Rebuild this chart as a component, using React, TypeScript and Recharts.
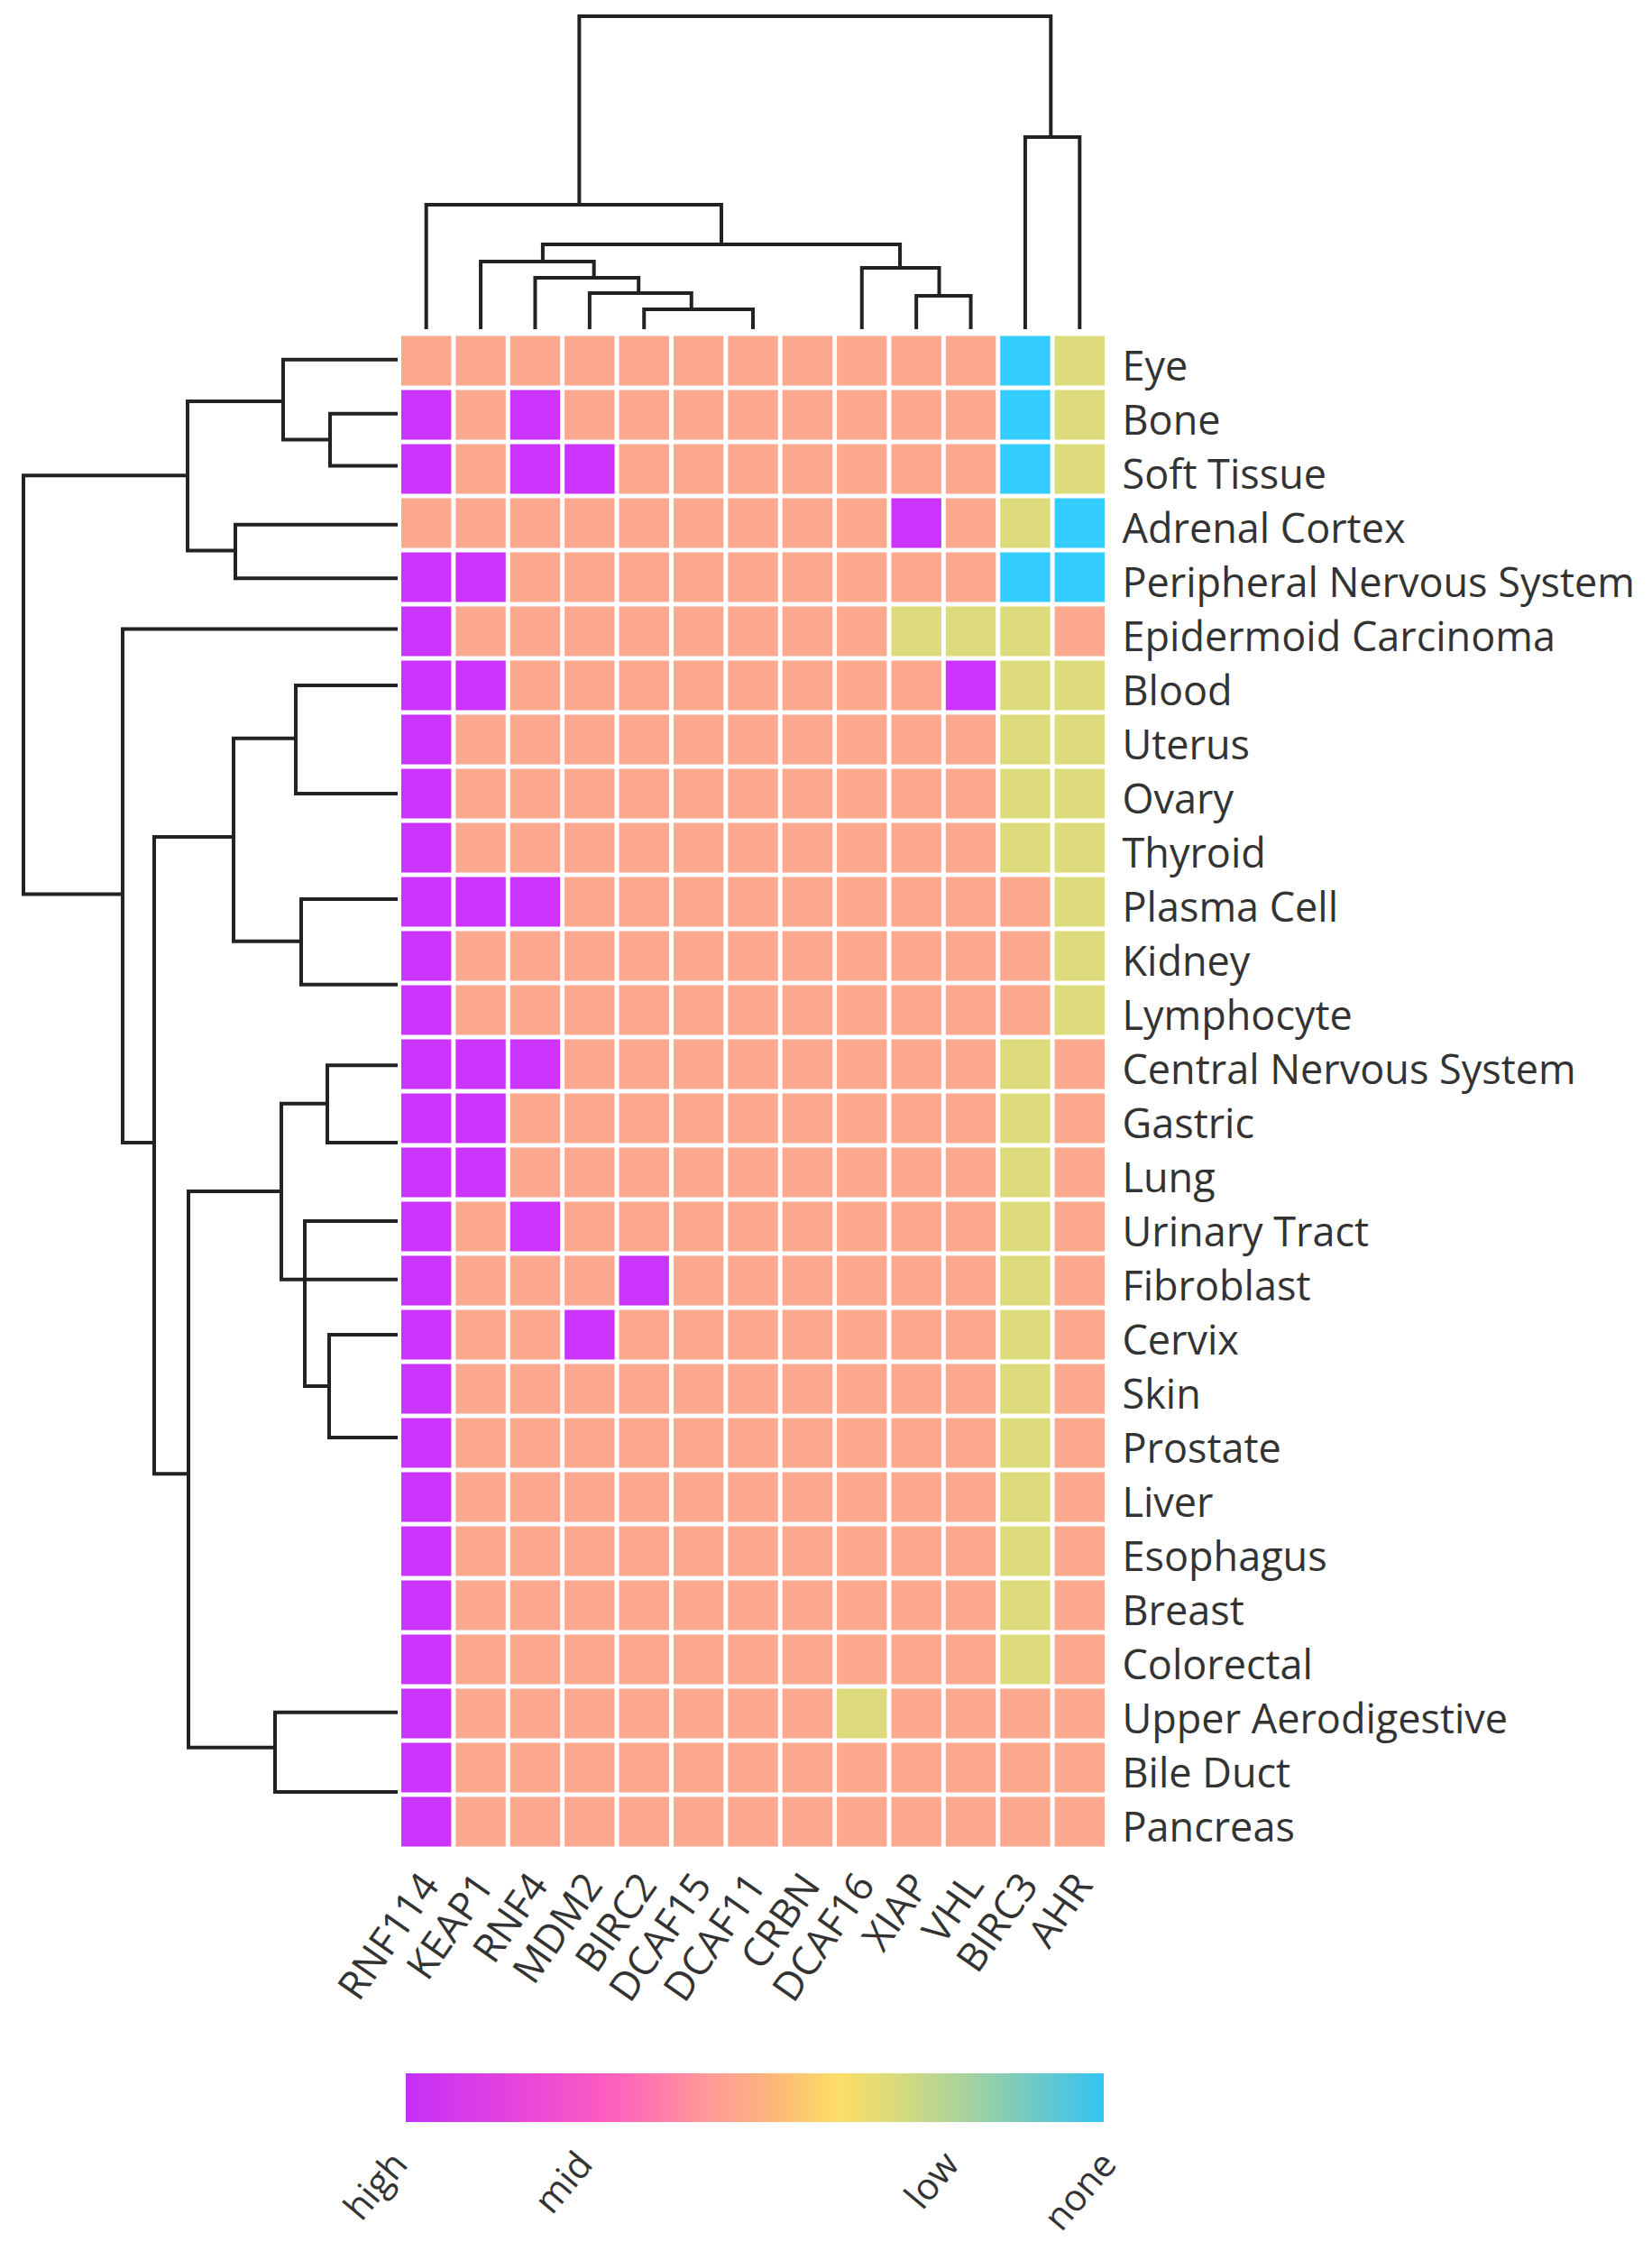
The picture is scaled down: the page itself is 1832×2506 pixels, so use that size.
import { ScatterChart, Scatter, XAxis, YAxis, BarChart, Bar } from 'recharts'

const FONT = '"Open Sans", sans-serif'
const INK = '#333333'
const LINE = '#222222'

const GENES = ['RNF114', 'KEAP1', 'RNF4', 'MDM2', 'BIRC2', 'DCAF15', 'DCAF11', 'CRBN', 'DCAF16', 'XIAP', 'VHL', 'BIRC3', 'AHR']

const TISSUES = [
  'Eye', 'Bone', 'Soft Tissue', 'Adrenal Cortex', 'Peripheral Nervous System', 'Epidermoid Carcinoma',
  'Blood', 'Uterus', 'Ovary', 'Thyroid', 'Plasma Cell', 'Kidney', 'Lymphocyte', 'Central Nervous System',
  'Gastric', 'Lung', 'Urinary Tract', 'Fibroblast', 'Cervix', 'Skin', 'Prostate', 'Liver', 'Esophagus',
  'Breast', 'Colorectal', 'Upper Aerodigestive', 'Bile Duct', 'Pancreas',
]

// one letter per gene: h = high, m = mid, l = low, n = none
const ROW_LEVELS = [
  'mmmmmmmmmmmnl',
  'hmhmmmmmmmmnl',
  'hmhhmmmmmmmnl',
  'mmmmmmmmmhmln',
  'hhmmmmmmmmmnn',
  'hmmmmmmmmlllm',
  'hhmmmmmmmmhll',
  'hmmmmmmmmmmll',
  'hmmmmmmmmmmll',
  'hmmmmmmmmmmll',
  'hhhmmmmmmmmml',
  'hmmmmmmmmmmml',
  'hmmmmmmmmmmml',
  'hhhmmmmmmmmlm',
  'hhmmmmmmmmmlm',
  'hhmmmmmmmmmlm',
  'hmhmmmmmmmmlm',
  'hmmmhmmmmmmlm',
  'hmmhmmmmmmmlm',
  'hmmmmmmmmmmlm',
  'hmmmmmmmmmmlm',
  'hmmmmmmmmmmlm',
  'hmmmmmmmmmmlm',
  'hmmmmmmmmmmlm',
  'hmmmmmmmmmmlm',
  'hmmmmmmmlmmmm',
  'hmmmmmmmmmmmm',
  'hmmmmmmmmmmmm',
]

const LEVEL_COLORS: Record<string, string> = {
  h: '#CC33FF',
  m: '#FCA88F',
  l: '#DDDB7B',
  n: '#33CCFF',
}

// column dendrogram links: [left pos, left height, right pos, right height, merge height]
const COL_LINKS = [
  [4, 0, 6, 0, 22],
  [3, 0, 4.87, 22, 40],
  [2, 0, 3.9, 40, 57],
  [1, 0, 3.08, 57, 75],
  [9, 0, 10, 0, 37],
  [8, 0, 9.42, 37, 68],
  [2.14, 75, 8.7, 68, 94],
  [0, 0, 5.42, 94, 138],
  [11, 0, 12, 0, 213],
  [2.81, 138, 11.47, 213, 347],
]

// row dendrogram links: [top pos, top distance, bottom pos, bottom distance, merge distance]
const ROW_LINKS = [
  [0.98, 0, 1.94, 0, 75],
  [-0.02, 0, 1.46, 75, 127],
  [3.03, 0, 4.02, 0, 180],
  [0.75, 127, 3.51, 180, 233],
  [6.0, 0, 8.0, 0, 113],
  [9.95, 0, 11.53, 0, 107],
  [6.98, 113, 10.73, 107, 182],
  [13.02, 0, 14.45, 0, 78],
  [18.0, 0, 19.9, 0, 76],
  [15.9, 0, 18.95, 76, 103],
  [13.73, 78, 16.98, 103, 129],
  [24.98, 0, 26.45, 0, 136],
  [15.35, 129, 25.63, 136, 232],
  [8.8, 182, 20.57, 232, 270],
  [4.96, 0, 14.45, 270, 305],
  [2.12, 233, 9.86, 305, 415],
]

// leaf stub that runs into the Urinary Tract cluster
const ROW_STUBS = [[16.98, 103]]

const SCALE_STOPS = [
  [0, '#C52EF7'],
  [0.1, '#DA3DE6'],
  [0.2, '#EE4BD2'],
  [0.28, '#FB5BC2'],
  [0.36, '#FF7AAC'],
  [0.44, '#FE9D95'],
  [0.52, '#FCB47C'],
  [0.62, '#FCDE66'],
  [0.7, '#DADB7D'],
  [0.8, '#A8D29C'],
  [0.9, '#6ECAC6'],
  [1, '#33C4F4'],
]
const SCALE_TICKS = [0, 0.26, 0.78, 1]
const SCALE_LABELS = ['high', 'mid', 'low', 'none']

const cells = ROW_LEVELS.flatMap((levels, row) =>
  GENES.map((gene, col) => ({ col, row, gene, tissue: TISSUES[row], level: levels[col] })),
)

const colLinkPoints = COL_LINKS.map(([a, ah, b, bh, m]) => [
  { x: a, y: ah },
  { x: a, y: m },
  { x: b, y: m },
  { x: b, y: bh },
])

const rowLinkPoints = [
  ...ROW_LINKS.map(([a, ad, b, bd, m]) => [
    { x: ad, y: a },
    { x: m, y: a },
    { x: m, y: b },
    { x: bd, y: b },
  ]),
  ...ROW_STUBS.map(([p, d]) => [
    { x: 0, y: p },
    { x: d, y: p },
  ]),
]

const W = 1832
const H = 2506
// heatmap plot box
const HM = { left: 442.5, right: 1227.5, top: 370, bottom: 2050 }
const CELL_W = (HM.right - HM.left) / GENES.length - 5
const CELL_H = (HM.bottom - HM.top) / TISSUES.length - 5

const noDot = () => <g />

function HeatCell(props: any) {
  const { cx, cy, payload } = props
  return (
    <rect
      x={cx - CELL_W / 2}
      y={cy - CELL_H / 2}
      width={CELL_W}
      height={CELL_H}
      fill={LEVEL_COLORS[payload.level]}
    />
  )
}

function TissueTick({ x, y, payload }: any) {
  return (
    <text x={x} y={y + 22} textAnchor="start" fontSize={45} fill={INK} fontFamily={FONT}>
      {TISSUES[payload.value]}
    </text>
  )
}

function GeneTick({ x, y, payload }: any) {
  const ax = x + 16
  const ay = y + 41
  return (
    <text x={ax} y={ay} transform={`rotate(-55 ${ax} ${ay})`} textAnchor="end" fontSize={44} fill={INK} fontFamily={FONT}>
      {GENES[payload.value]}
    </text>
  )
}

function ScaleTick({ x, y, payload }: any) {
  const i = SCALE_TICKS.indexOf(payload.value)
  const ax = x + 4 + i * 4
  const ay = y + 48
  return (
    <text x={ax} y={ay} transform={`rotate(-50 ${ax} ${ay})`} textAnchor="end" fontSize={41} fill={INK} fontFamily={FONT}>
      {SCALE_LABELS[i]}
    </text>
  )
}

export default function App() {
  const yAxisW = 600
  const xAxisH = 300
  return (
    <div style={{ position: 'relative', width: W, height: H, background: '#fff', fontFamily: FONT }}>
      <style>{'body{margin:0}'}</style>

      {/* heatmap with tissue and gene labels */}
      <div style={{ position: 'absolute', left: 0, top: 0 }}>
        <ScatterChart
          width={W}
          height={H}
          margin={{ top: HM.top, left: HM.left, right: W - HM.right - yAxisW, bottom: H - HM.bottom - xAxisH }}
        >
          <XAxis
            type="number"
            dataKey="col"
            domain={[-0.5, GENES.length - 0.5]}
            ticks={GENES.map((_, i) => i)}
            interval={0}
            height={xAxisH}
            tickSize={0}
            tickMargin={0}
            axisLine={false}
            tickLine={false}
            tick={(p: any) => <GeneTick {...p} />}
          />
          <YAxis
            type="number"
            dataKey="row"
            orientation="right"
            reversed
            domain={[-0.5, TISSUES.length - 0.5]}
            ticks={TISSUES.map((_, i) => i)}
            interval={0}
            width={yAxisW}
            tickSize={0}
            tickMargin={17}
            axisLine={false}
            tickLine={false}
            tick={(p: any) => <TissueTick {...p} />}
          />
          <Scatter data={cells} shape={(p: any) => <HeatCell {...p} />} isAnimationActive={false} />
        </ScatterChart>
      </div>

      {/* gene dendrogram */}
      <div style={{ position: 'absolute', left: 0, top: 0 }}>
        <ScatterChart width={W} height={380} margin={{ top: 18, left: HM.left, right: W - HM.right, bottom: 15 }}>
          <XAxis type="number" dataKey="x" domain={[-0.5, GENES.length - 0.5]} hide />
          <YAxis type="number" dataKey="y" domain={[0, 347]} hide />
          {colLinkPoints.map((pts, i) => (
            <Scatter
              key={i}
              data={pts}
              fill={LINE}
              line={{ stroke: LINE, strokeWidth: 4 }}
              shape={noDot}
              isAnimationActive={false}
            />
          ))}
        </ScatterChart>
      </div>

      {/* tissue dendrogram */}
      <div style={{ position: 'absolute', left: 0, top: 0 }}>
        <ScatterChart width={460} height={H} margin={{ top: HM.top, left: 26, right: 19, bottom: H - HM.bottom }}>
          <XAxis type="number" dataKey="x" domain={[0, 415]} reversed hide />
          <YAxis type="number" dataKey="y" domain={[-0.5, TISSUES.length - 0.5]} reversed hide />
          {rowLinkPoints.map((pts, i) => (
            <Scatter
              key={i}
              data={pts}
              fill={LINE}
              line={{ stroke: LINE, strokeWidth: 4 }}
              shape={noDot}
              isAnimationActive={false}
            />
          ))}
        </ScatterChart>
      </div>

      {/* colour scale */}
      <div style={{ position: 'absolute', left: 0, top: 2200 }}>
        <BarChart
          width={W}
          height={306}
          layout="vertical"
          data={[{ name: 'scale', value: 1 }]}
          barCategoryGap={0}
          margin={{ top: 99, left: 450, right: W - 1224, bottom: 33 }}
        >
          <defs>
            <linearGradient id="scaleGrad" x1="0" y1="0" x2="1" y2="0">
              {SCALE_STOPS.map(([o, c]) => (
                <stop key={o as number} offset={o as number} stopColor={c as string} />
              ))}
            </linearGradient>
          </defs>
          <XAxis
            type="number"
            domain={[0, 1]}
            ticks={SCALE_TICKS}
            interval={0}
            height={120}
            tickSize={0}
            tickMargin={0}
            axisLine={false}
            tickLine={false}
            tick={(p: any) => <ScaleTick {...p} />}
          />
          <YAxis type="category" dataKey="name" hide />
          <Bar dataKey="value" fill="url(#scaleGrad)" isAnimationActive={false} />
        </BarChart>
      </div>
    </div>
  )
}
